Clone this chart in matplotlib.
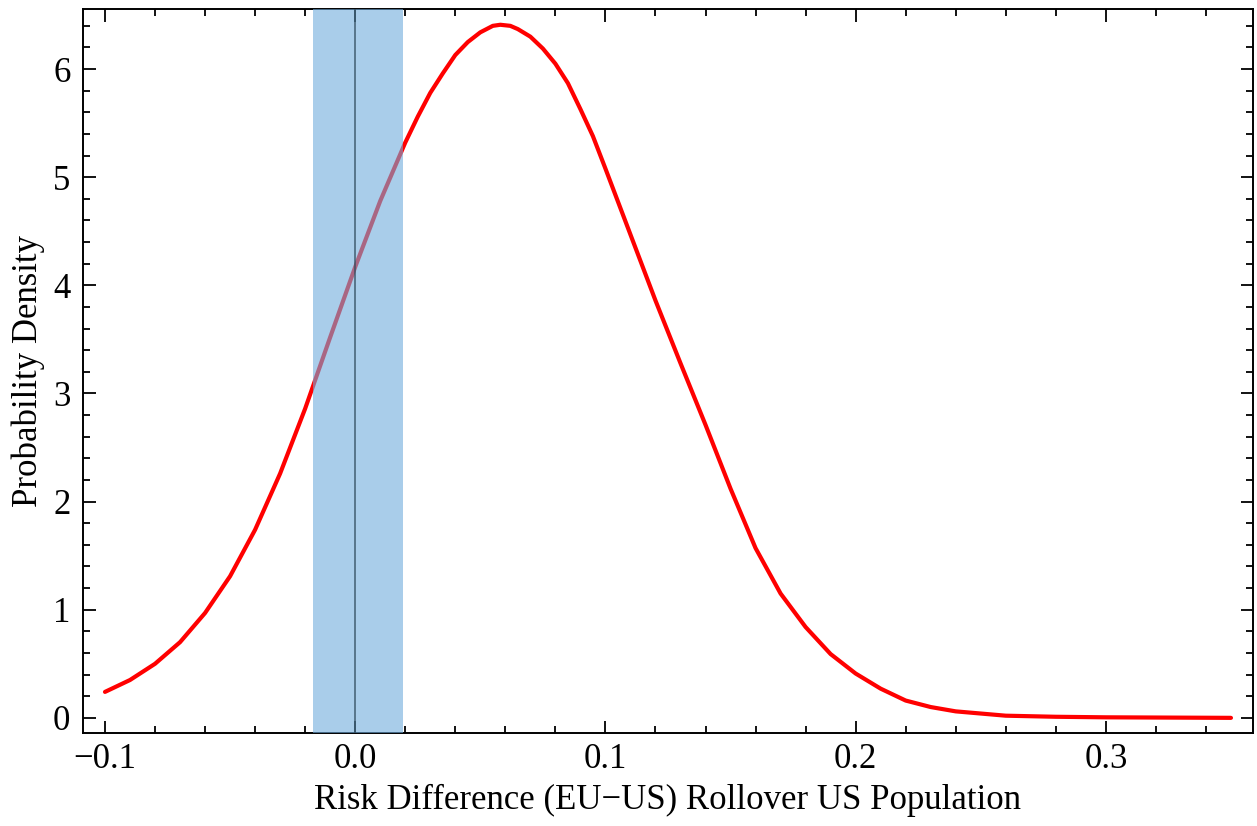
import matplotlib
matplotlib.use('Agg')
import matplotlib.pyplot as plt
from matplotlib.ticker import MultipleLocator

# Density curve
risk_diff = [-0.100, -0.090, -0.080, -0.070, -0.060, -0.050, -0.040, -0.030,
             -0.020, -0.010, 0.000, 0.010, 0.020, 0.025, 0.030, 0.035,
             0.040, 0.045, 0.050, 0.055, 0.058, 0.062, 0.065, 0.070,
             0.075, 0.080, 0.085, 0.090, 0.095, 0.100, 0.110, 0.120,
             0.130, 0.140, 0.150, 0.160, 0.170, 0.180, 0.190, 0.200,
             0.210, 0.220, 0.230, 0.240, 0.250, 0.260, 0.280, 0.300, 0.350]
density = [0.24, 0.35, 0.50, 0.70, 0.97, 1.31, 1.74, 2.26,
           2.86, 3.52, 4.17, 4.78, 5.32, 5.56, 5.78, 5.96,
           6.13, 6.25, 6.34, 6.40, 6.41, 6.40, 6.37, 6.30,
           6.19, 6.05, 5.87, 5.63, 5.38, 5.08, 4.47, 3.86,
           3.28, 2.71, 2.12, 1.57, 1.15, 0.84, 0.59, 0.41,
           0.27, 0.16, 0.10, 0.06, 0.04, 0.02, 0.01, 0.005, 0.0]

band = (-0.017, 0.019)
x_ticks = [-0.1, 0.0, 0.1, 0.2, 0.3]
x_ticklabels = ['\u22120.1', '0.0', '0.1', '0.2', '0.3']
y_ticks = [0, 1, 2, 3, 4, 5, 6]

plt.rcParams['font.family'] = ['Liberation Serif', 'DejaVu Serif']

fig = plt.figure(figsize=(12.57, 8.26), dpi=100)
ax = fig.add_axes([0.066, 0.1126, 0.9308, 0.8764])

ax.plot(risk_diff, density, color='#ff0000', lw=3.0, solid_capstyle='round',
        solid_joinstyle='round', zorder=2)
ax.axvspan(band[0], band[1], color='#70acdc', alpha=0.6, lw=0, zorder=3)
ax.axvline(0.0, color='#2f4a5c', lw=1.1, alpha=0.85, zorder=4)

ax.set_xlim(-0.1088, 0.3588)
ax.set_ylim(-0.14, 6.555)

ax.set_xticks(x_ticks)
ax.set_xticklabels(x_ticklabels)
ax.set_yticks(y_ticks)
ax.xaxis.set_minor_locator(MultipleLocator(0.02))
ax.yaxis.set_minor_locator(MultipleLocator(0.2))

ax.tick_params(which='both', direction='in', top=True, right=True,
               labelsize=25, width=1.3, color='black', pad=7)
ax.tick_params(which='major', length=9)
ax.tick_params(which='minor', length=5)
ax.tick_params(axis='y', pad=9)

for sp in ax.spines.values():
    sp.set_linewidth(1.4)

ax.set_xlabel('Risk Difference (EU\u2212US) Rollover US Population', fontsize=25, labelpad=6)
ax.set_ylabel('Probability Density', fontsize=25, labelpad=6)

fig.savefig('out.png', dpi=100)
